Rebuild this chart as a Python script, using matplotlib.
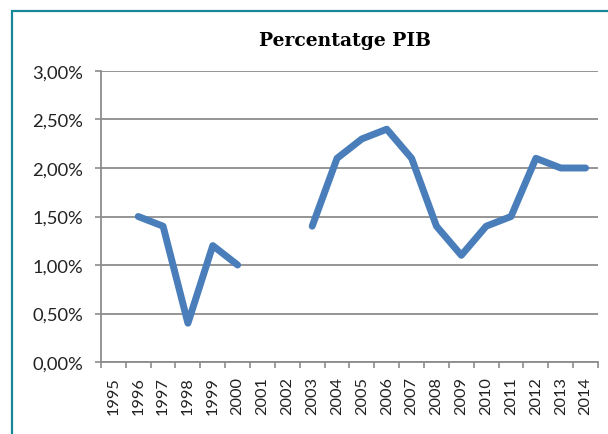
import numpy as np
import matplotlib.pyplot as plt
from matplotlib.patches import Rectangle

years = [str(y) for y in range(1995, 2015)]
pib = [np.nan, 1.5, 1.4, 0.4, 1.2, 1.0, np.nan, np.nan, 1.4, 2.1,
       2.3, 2.4, 2.1, 1.4, 1.1, 1.4, 1.5, 2.1, 2.0, 2.0]
y_ticks = [0.0, 0.5, 1.0, 1.5, 2.0, 2.5, 3.0]

plt.rcParams['font.family'] = 'Lato'

fig = plt.figure(figsize=(6.08, 4.35), dpi=100)
ax = fig.add_axes([0.166, 0.1655, 0.8176, 0.669])

# teal frame of the chart area (cut off at right and bottom)
fig.patches.append(Rectangle((12 / 608, -0.1), 1.2, 1 - 12 / 435 + 0.1,
                             transform=fig.transFigure, fill=False,
                             edgecolor='#17879a', linewidth=1.6))

x = np.arange(len(years)) + 0.5
ax.plot(x, pib, color='#4a7ebb', linewidth=5.0, solid_capstyle='round',
        solid_joinstyle='round')

ax.set_xlim(0, len(years))
ax.set_ylim(0, 3.0)
ax.set_yticks(y_ticks)
ax.set_yticklabels([('%.2f%%' % v).replace('.', ',') for v in y_ticks])

ax.set_xticks(np.arange(len(years) + 1))
ax.set_xticklabels([])
ax.set_xticks(x, minor=True)
ax.set_xticklabels(years, minor=True, rotation=90)
ax.tick_params(axis='x', which='minor', length=0, pad=10, labelsize=11.8, colors='#222222')
ax.tick_params(axis='x', which='major', length=4, color='#8c8c8c', width=1.2)
ax.tick_params(axis='y', length=4, color='#8c8c8c', width=1.2, labelsize=13.2,
               labelcolor='#222222', pad=9)

ax.grid(axis='y', color='#8c8c8c', linewidth=1.3)
ax.set_axisbelow(True)
for s in ['top', 'right']:
    ax.spines[s].set_visible(False)
for s in ['left', 'bottom']:
    ax.spines[s].set_color('#8c8c8c')
    ax.spines[s].set_linewidth(1.3)

fig.text(0.567, 0.906, 'Percentatge PIB', ha='center', va='center',
         fontsize=13.5, fontweight='bold', family='DejaVu Serif')

fig.savefig('out.png', dpi=100, facecolor='white')
